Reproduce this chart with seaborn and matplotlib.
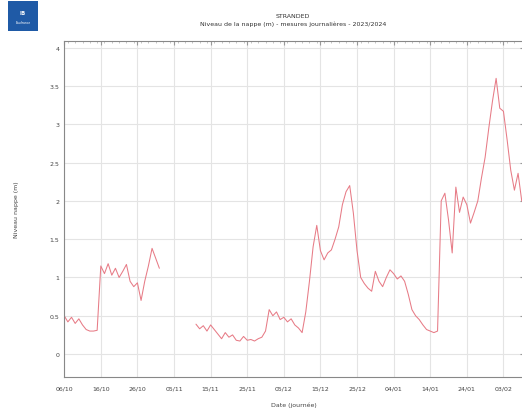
import numpy as np
import pandas as pd
import matplotlib
matplotlib.use("Agg")
import matplotlib.pyplot as plt
import matplotlib.dates as mdates
from matplotlib.patches import Rectangle
import seaborn as sns

start_date = "2023-10-06"
seg1 = [0.50, 0.42, 0.48, 0.40, 0.46, 0.38, 0.32, 0.30, 0.30, 0.31,
        1.15, 1.05, 1.18, 1.03, 1.12, 1.00, 1.08, 1.17, 0.95, 0.88,
        0.93, 0.70, 0.95, 1.15, 1.38, 1.25, 1.12]
gap = [np.nan] * 9
seg2 = [0.39, 0.33, 0.37, 0.30, 0.38, 0.32, 0.26, 0.20, 0.28, 0.22,
        0.25, 0.18, 0.17, 0.23, 0.18, 0.19, 0.17, 0.20, 0.22, 0.30,
        0.58, 0.50, 0.55, 0.45, 0.48, 0.42, 0.46, 0.38, 0.34, 0.28,
        0.55, 0.95, 1.40, 1.68, 1.35, 1.23, 1.32, 1.36, 1.50, 1.66,
        1.95, 2.12, 2.20, 1.84, 1.35, 1.00, 0.92, 0.86, 0.82, 1.08,
        0.95, 0.88, 1.00, 1.10, 1.05, 0.98, 1.02, 0.95, 0.78, 0.58,
        0.50, 0.45, 0.38, 0.32, 0.30, 0.28, 0.30, 2.00, 2.10, 1.75,
        1.32, 2.18, 1.85, 2.05, 1.95, 1.71, 1.85, 2.00, 2.30, 2.57,
        2.95, 3.30, 3.60, 3.21, 3.17, 2.80, 2.40, 2.14, 2.36, 2.00,
        1.95]
niveau = seg1 + gap + seg2
y_ticks = [0, 0.5, 1, 1.5, 2, 2.5, 3, 3.5, 4]
y_ticklabels = ["0", "0.5", "1", "1.5", "2", "2.5", "3", "3.5", "4"]

titre = "STRANDED"
sous_titre = "Niveau de la nappe (m) - mesures journalières - 2023/2024"
xlabel = "Date (journée)"
ylabel = "Niveau nappe (m)"

df = pd.DataFrame({"date": pd.date_range(start_date, periods=len(niveau), freq="D"),
                   "niveau": niveau})
# segments separes pour garder le trou dans la courbe
df["seg"] = df["niveau"].isna().cumsum()
df = df.dropna()

sns.set_style("white")
fig = plt.figure(figsize=(5.22, 4.10), dpi=100)
ax = fig.add_axes([0.123, 0.078, 0.880, 0.820])

sns.lineplot(data=df, x="date", y="niveau", units="seg", estimator=None,
             color="#e77b86", linewidth=0.75, ax=ax)

t0 = pd.Timestamp(start_date)
ax.set_xlim(t0, t0 + pd.Timedelta(days=125.5))
ax.set_ylim(-0.3, 4.09)
ax.set_yticks(y_ticks)
ax.set_yticklabels(y_ticklabels)
ticks = pd.date_range(t0, periods=13, freq="10D")
ax.set_xticks(ticks)
ax.set_xticklabels([d.strftime("%d/%m") for d in ticks])
ax.xaxis.set_minor_locator(mdates.DayLocator(interval=2))
ax.yaxis.set_minor_locator(plt.MultipleLocator(0.1))

ax.grid(True, which="major", color="#e4e4e4", linewidth=0.8)
ax.tick_params(axis="both", which="major", labelsize=4.5, length=3, color="#999999",
               labelcolor="#444444", direction="in", top=True, right=True)
ax.tick_params(axis="both", which="minor", length=1.5, color="#bbbbbb", direction="in",
               top=True, right=True)
ax.tick_params(axis="x", pad=6)
for s in ax.spines.values():
    s.set_color("#888888")
    s.set_linewidth(0.8)

ax.set_xlabel(xlabel, fontsize=4.5, color="#444444", labelpad=8)
ax.set_ylabel(ylabel, fontsize=4.5, color="#444444", labelpad=22)

fig.text(0.561, 0.960, titre, ha="center", va="center", fontsize=4.5, color="#333333")
fig.text(0.561, 0.941, sous_titre, ha="center", va="center", fontsize=4.5, color="#333333")

# logo
logo = fig.add_axes([0.015, 0.922, 0.058, 0.073])
logo.add_patch(Rectangle((0, 0), 1, 1, color="#1f5aa6"))
logo.text(0.5, 0.62, "IB", ha="center", va="center", color="white", fontsize=4, fontweight="bold")
logo.text(0.5, 0.3, "Eaufrance", ha="center", va="center", color="white", fontsize=2.2)
logo.set_xlim(0, 1)
logo.set_ylim(0, 1)
logo.axis("off")

fig.savefig("out.png", dpi=100)
